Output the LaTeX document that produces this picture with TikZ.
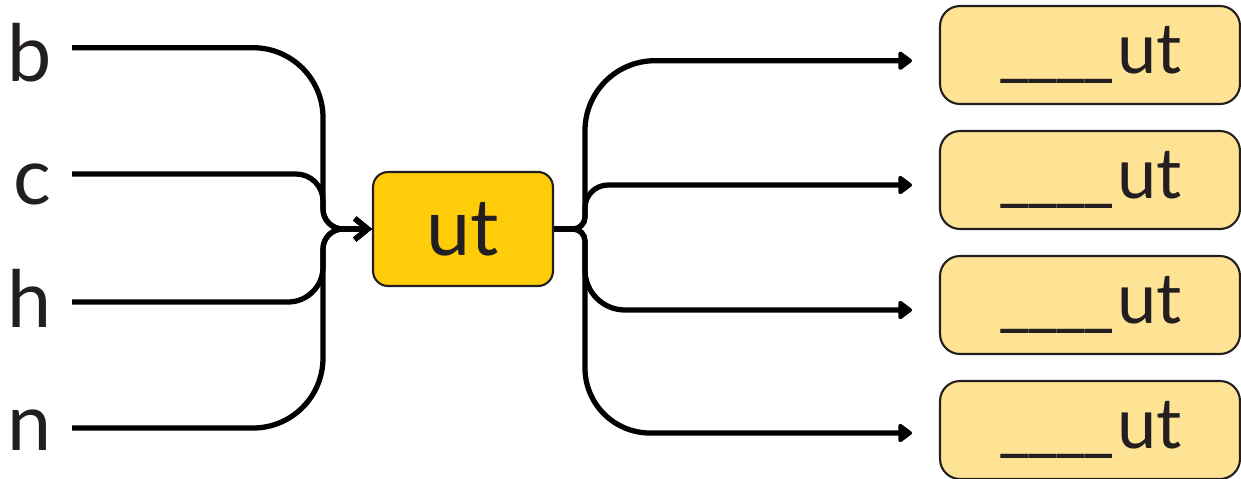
\documentclass[tikz,border=0pt]{standalone}
\usepackage{fontspec}
\setmainfont{Lato}
\usetikzlibrary{
  arrows.meta,
  positioning,
  calc
}
\definecolor{hubcolor}{RGB}{255, 204, 10}
\definecolor{leafcolor}{RGB}{255, 227, 148}
\definecolor{bordercolor}{RGB}{35, 31, 32}
\definecolor{wirecolor}{RGB}{0, 0, 0}
\definecolor{lettercolor}{RGB}{35, 31, 32}
\tikzset{
inletter/.style={
  anchor=base,
  inner sep=0pt,
  font=\fontsize{45}{50}\selectfont,
  text=lettercolor
},
hubblock/.style={
  draw=bordercolor,
  line width=1.2pt,
  rounded corners=0.3cm,
  fill=hubcolor,
  minimum width=3.6cm,
  minimum height=2.28cm,
  font=\fontsize{45}{50}\selectfont,
  text=lettercolor
},
leafblock/.style={
  draw=bordercolor,
  line width=1.2pt,
  rounded corners=0.4cm,
  fill=leafcolor,
  minimum width=6cm,
  minimum height=1.96cm,
  font=\fontsize{40}{46}\selectfont,
  text=lettercolor
},
wire/.style={
  draw=wirecolor,
  line width=3pt
},
inarrow/.style={
  wire,
  -{Straight Barb[length=0.26cm,width=0.42cm]}
},
outarrow/.style={
  wire,
  -{Triangle[length=0.3cm,width=0.42cm,round]}
}
}
\newcommand{\blankline}{\_\kern-2.4pt\_\kern-2.4pt\_\kern-2.4pt\_\kern1.5pt}
\begin{document}
\begin{tikzpicture}[x=0.02cm, y=-0.02cm]
  \useasboundingbox (0,0) rectangle (1241,478);
  % Junction columns
  \def\joinL{323}
  \def\joinR{585}

  % Centre block
  \node[hubblock] (hub) at (463,229) {ut};

  % Input letters
  \node[inletter] (b) at (30,81) {b};
  \node[inletter] (c) at (32,204) {c};
  \node[inletter] (h) at (30,327) {h};
  \node[inletter] (n) at (30,450) {n};
  \coordinate (b-end) at (72,47.7);
  \coordinate (c-end) at (72,174);
  \coordinate (h-end) at (72,302);
  \coordinate (n-end) at (72,428);

  % Inputs into the centre block
  \draw[inarrow] (b-end) [rounded corners=1.4cm] -- (\joinL,47.7) [rounded corners=0.4cm] -- (\joinL,229) -- (hub.west);
  \draw[inarrow] (c-end) [rounded corners=0.54cm] -- (\joinL,174) [rounded corners=0.4cm] -- (\joinL,229) -- (hub.west);
  \draw[inarrow] (h-end) [rounded corners=0.7cm] -- (\joinL,302) [rounded corners=0.4cm] -- (\joinL,229) -- (hub.west);
  \draw[inarrow] (n-end) [rounded corners=1.4cm] -- (\joinL,428) [rounded corners=0.4cm] -- (\joinL,229) -- (hub.west);

  % Output blocks and branches
  \foreach \i/\boxy/\wirey/\rad in {1/55/60.7/1.4cm, 2/180/185/0.46cm, 3/305/310/0.8cm, 4/430/433/1.3cm} {
    \node[leafblock] (out\i) at (1090,\boxy) {\blankline ut};
    \coordinate (out\i-tip) at (912,\wirey);
    \draw[outarrow] (hub.east) [rounded corners=0.24cm] -- (\joinR,229) [rounded corners=\rad] -- (\joinR,\wirey) -- (out\i-tip);
  }
\end{tikzpicture}
\end{document}
